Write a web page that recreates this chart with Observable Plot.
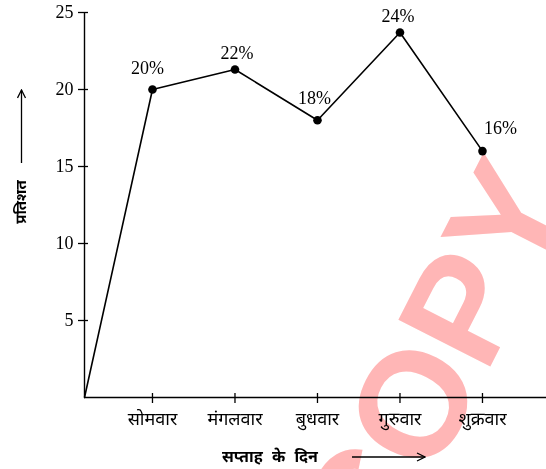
<!DOCTYPE html>
<html><head><meta charset="utf-8">
<script src="https://cdn.jsdelivr.net/npm/d3@7"></script>
<script src="https://cdn.jsdelivr.net/npm/@observablehq/plot@0.6"></script>
<style>
html,body{margin:0;padding:0;background:#fff;}
#wrap{position:relative;width:546px;height:469px;overflow:hidden;}
#wrap svg{display:block;}
.ov{position:absolute;left:0;top:0;pointer-events:none;}
#wm{mix-blend-mode:multiply;}
</style></head><body>
<div id="wrap"></div>
<script>
// ---- data ----
const days = ["सोमवार", "मंगलवार", "बुधवार", "गुरुवार", "शुक्रवार"];
const values = [20, 21.3, 18, 23.7, 16];
const valueLabels = ["20%", "22%", "18%", "24%", "16%"];
const yTicks = [5, 10, 15, 20, 25];
const yTitle = "प्रतिशत";
const xTitle = "सप्ताह के दिन";
const watermark = "COPY";

// ---- styles ----
const W = 546, H = 469;
const serif = "'Liberation Serif', 'Times New Roman', serif";
const deva = "'Noto Sans Devanagari', 'Lohit Devanagari', 'FreeSans', 'Noto Sans', sans-serif";
const xDomain = [0.176, 5.776];
const labelOffsets = [[-5, -21], [2, -16], [-3, -22], [-2, -16], [18, -23]];

const points = days.map((d, i) => ({x: i + 1, y: values[i], day: d, label: valueLabels[i]}));
const lineData = [{x: xDomain[0], y: 0}, ...points];

const chart = Plot.plot({
  width: W, height: H,
  marginLeft: 84, marginRight: 0, marginTop: 12, marginBottom: 72,
  style: {background: "#fff", color: "#000"},
  x: {type: "linear", domain: xDomain, axis: null},
  y: {domain: [0, 25], axis: null},
  marks: [
    Plot.ruleY([0], {stroke: "#000", strokeWidth: 1.4}),
    Plot.ruleX([xDomain[0]], {stroke: "#000", strokeWidth: 1.4}),
    Plot.axisY(yTicks, {tickSize: 10, dx: 4, tickPadding: 5, fontSize: 18, fontFamily: serif, label: null, stroke: "#000", strokeWidth: 1.3}),
    Plot.axisX(points.map(p => p.x), {tickSize: 10, dy: -4, tickPadding: 9, fontSize: 18, fontFamily: deva, label: null, tickFormat: i => days[i - 1], strokeWidth: 1.3}),
    Plot.line(lineData, {x: "x", y: "y", stroke: "#000", strokeWidth: 1.6}),
    Plot.dot(points, {x: "x", y: "y", r: 4.3, fill: "#000"}),
    ...points.map((p, i) => Plot.text([p], {x: "x", y: "y", text: "label", dx: labelOffsets[i][0], dy: labelOffsets[i][1], fontSize: 18, fontFamily: serif, fill: "#000"}))
  ]
});
const wrap = document.getElementById("wrap");
wrap.appendChild(chart);

// ---- annotations: axis titles with arrows ----
const ov = d3.select(wrap).append("svg").attr("class", "ov").attr("width", W).attr("height", H);
const defs = ov.append("defs");
defs.append("marker").attr("id", "ah").attr("viewBox", "0 0 10 10").attr("refX", 9).attr("refY", 5)
  .attr("markerWidth", 10).attr("markerHeight", 10).attr("markerUnits", "userSpaceOnUse").attr("orient", "auto")
  .append("path").attr("d", "M1,1 L9,5 L1,9").attr("fill", "none").attr("stroke", "#000").attr("stroke-width", 1.3);
ov.append("text").attr("transform", "translate(21,202) rotate(-90)").attr("text-anchor", "middle").attr("dy", "0.35em")
  .attr("font-family", deva).attr("font-weight", "bold").attr("font-size", 15).text(yTitle);
ov.append("line").attr("x1", 21.5).attr("y1", 163).attr("x2", 21.5).attr("y2", 90)
  .attr("stroke", "#000").attr("stroke-width", 1.3).attr("marker-end", "url(#ah)");
ov.append("text").attr("x", 270).attr("y", 456).attr("text-anchor", "middle").attr("dy", "0.35em")
  .attr("font-family", deva).attr("font-weight", "bold").attr("font-size", 16).attr("word-spacing", "5px").text(xTitle);
ov.append("line").attr("x1", 352).attr("y1", 457).attr("x2", 425).attr("y2", 457)
  .attr("stroke", "#000").attr("stroke-width", 1.3).attr("marker-end", "url(#ah)");

// ---- watermark ----
const wm = d3.select(wrap).append("svg").attr("id", "wm").attr("class", "ov").attr("width", W).attr("height", H);
wm.append("text").attr("transform", "translate(432,362) rotate(-63)").attr("text-anchor", "middle").attr("dy", "0.36em")
  .attr("font-family", "'Liberation Sans', Arial, sans-serif").attr("font-weight", "bold").attr("font-size", 150)
  .attr("fill", "#ffb6b6").text(watermark);
</script>
</body></html>
